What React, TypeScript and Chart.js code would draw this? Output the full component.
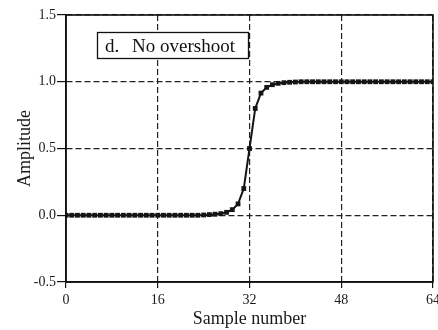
import React, { useEffect, useRef } from "react";
import { Chart, registerables } from "chart.js";

Chart.register(...registerables);

const sampleNumbers: number[] = Array.from({ length: 65 }, (_, i) => i);
const amplitude: number[] = [
  0, 0, 0, 0, 0, 0, 0, 0, 0, 0,
  0, 0, 0, 0, 0, 0, 0, 0, 0, 0,
  0, 0, 0, 0, 0.002, 0.005, 0.008, 0.012, 0.022, 0.042,
  0.085, 0.2, 0.5, 0.8, 0.915, 0.958, 0.978, 0.988, 0.993, 0.996,
  0.998, 1, 1, 1, 1, 1, 1, 1, 1, 1,
  1, 1, 1, 1, 1, 1, 1, 1, 1, 1,
  1, 1, 1, 1, 1,
];
const xTicks: number[] = [0, 16, 32, 48, 64];
const yTicks: number[] = [-0.5, 0, 0.5, 1, 1.5];
const annotationLetter = "d.";
const annotationText = "No overshoot";
const xTitle = "Sample number";
const yTitle = "Amplitude";

const SERIF = "'Liberation Serif', 'DejaVu Serif', serif";

const framePlugin = {
  id: "frameAndLabel",
  afterDraw(chart: any) {
    const { ctx, chartArea } = chart;
    ctx.save();
    ctx.strokeStyle = "#111";
    ctx.lineWidth = 1.6;
    ctx.setLineDash([]);
    ctx.strokeRect(chartArea.left, chartArea.top, chartArea.right - chartArea.left, chartArea.bottom - chartArea.top);
    const bx = 97, by = 32, bw = 151, bh = 26;
    ctx.fillStyle = "#fff";
    ctx.fillRect(bx, by, bw, bh);
    ctx.lineWidth = 1.3;
    ctx.strokeStyle = "#111";
    ctx.strokeRect(bx + 0.5, by + 0.5, bw, bh);
    ctx.fillStyle = "#111";
    ctx.font = `19px ${SERIF}`;
    ctx.textBaseline = "alphabetic";
    ctx.textAlign = "left";
    ctx.fillText(annotationLetter, 105, 52);
    ctx.fillText(annotationText, 132, 52);
    ctx.restore();
  },
};

export default function App() {
  const ref = useRef<HTMLCanvasElement | null>(null);
  useEffect(() => {
    if (!ref.current) return;
    const chart = new Chart(ref.current, {
      type: "line",
      data: {
        labels: sampleNumbers,
        datasets: [
          {
            data: sampleNumbers.map((x, i) => ({ x, y: amplitude[i] })),
            borderColor: "#151515",
            backgroundColor: "#151515",
            borderWidth: 2,
            pointStyle: "rect",
            pointRadius: 3.4,
            pointBorderWidth: 0,
            tension: 0,
          },
        ],
      },
      options: {
        responsive: false,
        animation: false,
        layout: { padding: { top: 15, right: 5, left: 0, bottom: 0 } },
        plugins: { legend: { display: false }, tooltip: { enabled: false } },
        scales: {
          x: {
            type: "linear",
            min: 0,
            max: 64,
            afterBuildTicks: (scale: any) => {
              scale.ticks = xTicks.map((v) => ({ value: v }));
            },
            afterFit: (scale: any) => {
              scale.height = 48;
              scale.paddingLeft = 0;
              scale.paddingRight = 0;
            },
            ticks: {
              color: "#1a1a1a",
              font: { family: SERIF, size: 14 },
              padding: 4,
              maxRotation: 0,
            },
            grid: {
              color: "#222",
              lineWidth: 1.2,
              tickColor: "#111",
              tickLength: 6,
              tickBorderDash: [],
            },
            border: { display: true, color: "#111", width: 1.5, dash: [6, 3] },
            title: {
              display: true,
              text: xTitle,
              color: "#1a1a1a",
              font: { family: SERIF, size: 18 },
              padding: { top: 0, bottom: 0 },
            },
          },
          y: {
            type: "linear",
            min: -0.5,
            max: 1.5,
            afterBuildTicks: (scale: any) => {
              scale.ticks = yTicks.map((v) => ({ value: v }));
            },
            afterFit: (scale: any) => {
              scale.width = 66;
              scale.paddingTop = 0;
              scale.paddingBottom = 0;
            },
            ticks: {
              color: "#1a1a1a",
              font: { family: SERIF, size: 14 },
              padding: 1,
              callback: (v: any) => Number(v).toFixed(1),
            },
            grid: {
              color: "#222",
              lineWidth: 1.2,
              tickColor: "#111",
              tickLength: 9,
              tickBorderDash: [],
            },
            border: { display: true, color: "#111", width: 1.5, dash: [6, 3] },
            title: {
              display: true,
              text: yTitle,
              color: "#1a1a1a",
              font: { family: SERIF, size: 18 },
              padding: { top: 14, bottom: 0 },
            },
          },
        },
      },
      plugins: [framePlugin],
    } as any);
    return () => chart.destroy();
  }, []);
  return (
    <div style={{ position: "fixed", left: 0, top: 0, width: 438, height: 330, background: "#fff" }}>
      <canvas ref={ref} width={438} height={330} style={{ display: "block", width: 438, height: 330 }} />
    </div>
  );
}
